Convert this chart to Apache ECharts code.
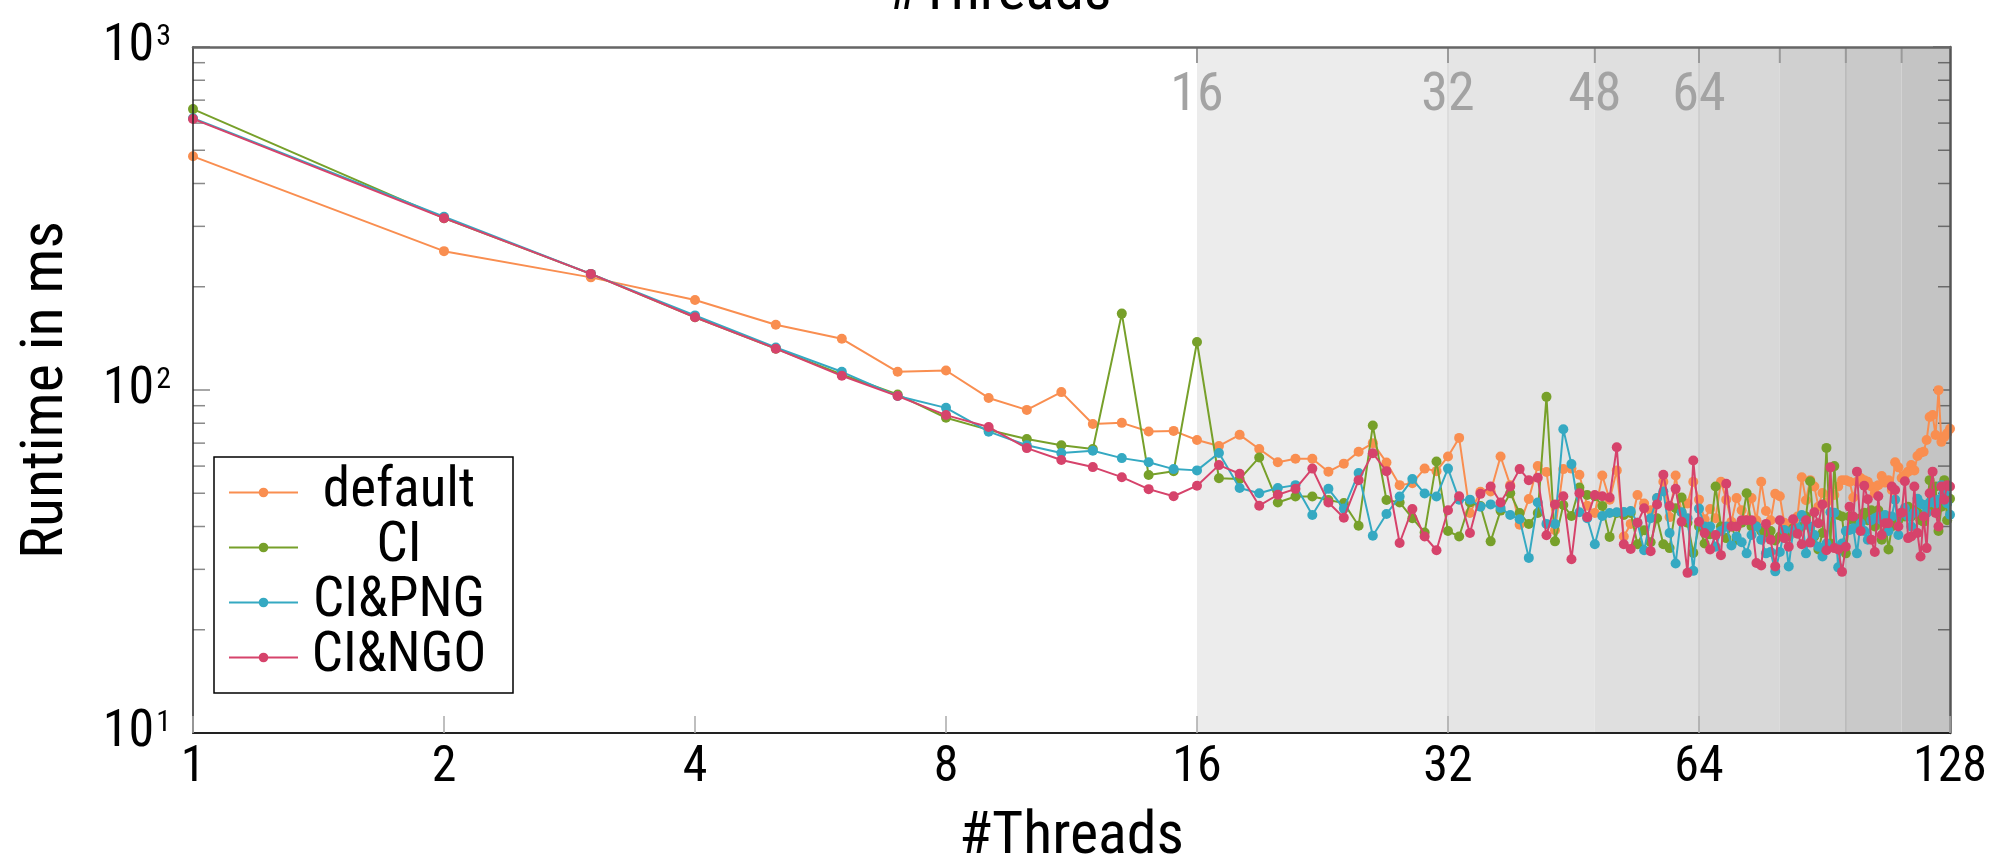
<!DOCTYPE html>
<html>
<head>
<meta charset="utf-8">
<script src="https://cdn.jsdelivr.net/npm/echarts@6/dist/echarts.min.js"></script>
<style>
  html, body { margin: 0; padding: 0; background: #fff; }
  #chart { width: 1998px; height: 857px; }
</style>
</head>
<body>
<div id="chart"></div>
<script>
// ---------------- data ----------------
const THREADS = [1,2,3,4,5,6,7,8,9,10,11,12,13,14,15,16,17,18,19,20,21,22,23,24,25,26,27,28,29,30,31,32,
  33,34,35,36,37,38,39,40,41,42,43,44,45,46,47,48,49,50,51,52,53,54,55,56,57,58,59,60,61,62,63,64,
  65,66,67,68,69,70,71,72,73,74,75,76,77,78,79,80,81,82,83,84,85,86,87,88,89,90,91,92,93,94,95,96,
  97,98,99,100,101,102,103,104,105,106,107,108,109,110,111,112,113,114,115,116,117,118,119,120,121,122,123,124,125,126,127,128];

const SERIES_NAMES = ['default', 'CI', 'CI&PNG', 'CI&NGO'];

const DEFAULT = [480,254,213,183,155,141,113,114,94.8,87.5,98.6,79.6,80.2,75.7,76,71.5,
  68.7,74,67.3,61.6,63,63,57.8,61,66.1,70,61.5,52.8,53.5,59,58,64,
  72.5,43.8,50.5,50.6,64,52.8,40.5,48.1,60,57.7,39,58.8,59,56.6,46,43.8,
  56.3,47.9,58.3,37.4,40.7,49.4,46.7,44.6,48.4,54,42.6,56.3,44,46.7,54,47.9,
  42,45,42.3,54,47.9,41.3,48.4,44.6,41.7,48.4,41.7,54,44.4,41.7,49.8,49,
  41,39.6,41,42.8,55.7,47.7,54.6,52.3,45.7,50.1,47,49.4,49.4,52.3,54.6,54.6,
  54,48.6,54,55.4,54.6,54,52.3,50,52.8,56.1,53.7,54.6,51.1,61.6,59.5,55.4,
  56.6,57.8,60.4,58.3,64.2,65.6,66.1,71.5,83.4,84.5,73.9,99.9,70.6,73,74.8,77.1];

const CI = [659,317,218,163,132,111,97,83,76.5,72,69,67.3,167,56.5,58,138,
  55.3,55,63.6,47,48.9,48.9,47.8,46.8,40.2,78.8,47.8,47,42.3,38.4,61.9,38.8,
  37.4,47,45.9,36.2,44.5,50,43.8,40.7,43.8,95.5,36.2,46.2,42.9,52,49.4,49,
  45.9,37.3,43.8,43.2,43.8,35.5,39,36,42.3,35.5,34.6,45.2,48.6,41,33.5,40,
  35.7,38,52.3,40,37,40,36.6,41,50,40,40,38.8,38.3,38.8,36.4,37.4,
  38.8,37.4,39.5,38.8,40,42.8,54.2,37.4,34.3,38.3,67.8,35.7,60,43.2,42.8,33.4,
  42.8,41.7,40,42.3,43.9,41.7,44.6,40,44.6,36.6,41.7,34.3,40,40.9,41.7,43.9,
  42.8,45.7,42.8,44.6,43.9,41.7,41.3,43.9,54.6,45.7,52.3,38.8,45.7,54.6,41.7,48.2];

const CI_PNG = [620,320,218,165,133,113,96,88.7,75.6,69,65.5,66.5,63.3,61.6,58.8,58.3,
  65.5,51.8,50,51.8,52.8,43.2,51.5,45.1,57.3,37.6,43.5,48.9,55,49.9,48.9,59,
  47.9,47.9,45.7,46.4,45.3,43.2,42,32.4,47,40.7,40.7,76.8,60.8,44,42.3,35.5,
  42.9,43.8,44,44.1,44.4,41,34.1,42.3,48.4,50.6,38.3,31.2,44,42.3,29.7,45.1,
  40,40,34.9,38.8,40,35.2,37.4,36,33.4,37.8,40,36.6,33.4,33.7,29.6,33.7,
  39.1,30.6,39,39.5,43.2,33.4,40,37.8,34.9,32.7,35.7,44,43.9,30.4,35.7,38.8,
  39.1,39.5,33.4,40.9,38.8,36.6,41.7,42.3,42.8,41.7,43.2,38.8,42.8,47.9,37.8,43.9,
  45.3,42.8,40,43.9,48.2,46.7,46.2,43.9,47,47.9,46.7,47.9,52.8,50,46.7,43.3];

const CI_NGO = [617,317,218,163,132,110,96,84.5,78,67.7,62.5,59.6,55.7,51.4,49,52.6,
  60.4,57,46,49.5,51.5,59,47,42.4,54.6,65.4,58,35.8,45,37.4,34.1,44.6,
  49,38.3,49.8,52.3,47,52.3,58.8,54.6,55.5,37.7,46.4,49,32.1,50,42.6,49.4,
  49,48.6,68.1,35.5,34.4,41,45.2,33.9,46.4,56.6,45.9,51.5,41.3,29.3,62.3,41.3,
  38.3,34.3,37.8,33,53.3,40,40,41.7,41.7,41.7,31.3,30.8,40.7,36.6,30.6,41.7,
  37,34.9,42,38.1,35.5,41.7,35.9,44,40.9,46.4,34.1,59.5,34.6,34.3,29.5,34.9,
  45.7,42.8,57.8,38.8,52.6,48,36.6,33.7,49,37.8,40.9,40.9,52.3,51.1,40,43.9,
  54.2,37,37.4,52.3,38.3,32.7,42.8,34.6,50,57.8,43.8,40,52.3,47.9,52.8,52.3];

// shaded thread ranges and the labels printed at the top of their left edges
const BAND_RANGES = [[16,32],[32,48],[48,64],[64,80],[80,96],[96,112],[112,128]];
const BAND_LABELS = ['16','32','48','64','','',''];
const TOP_TICKS = [16,32,48,64,80,96,112];
const Y_MINOR_TICKS = [20,30,40,50,60,70,80,90,200,300,400,500,600,700,800,900];
const Y_MAJOR_TICKS = [10,100,1000];

// ---------------- style ----------------
const FONT = "'Roboto Condensed', 'Liberation Sans Narrow', 'Arial Narrow', 'DejaVu Sans Condensed', sans-serif";
const COLORS = ['#f98e50', '#77a02a', '#35a9c2', '#d6436b'];
const BAND_FILL = ['#ececec','#e5e5e5','#dfdfdf','#d8d8d8','#d0d0d0','#c9c9c9','#c4c4c4'];
const BAND_EDGE = [null,'#d8d8d8',null,'#cbcbcb',null,'#b9b9b9',null];

const chart = echarts.init(document.getElementById('chart'), null, {renderer: 'canvas'});

function pairs(vals) { return THREADS.map((t, i) => [t, vals[i]]); }

const lineSeries = [DEFAULT, CI, CI_PNG, CI_NGO].map((vals, k) => ({
  name: SERIES_NAMES[k],
  type: 'line',
  data: pairs(vals),
  symbol: 'circle',
  symbolSize: 10,
  showSymbol: true,
  lineStyle: { width: 2, color: COLORS[k] },
  itemStyle: { color: COLORS[k] },
  z: 4 + k,
  animation: false,
  emphasis: { disabled: true }
}));

const bandSeries = {
  type: 'custom',
  silent: true,
  z: 1,
  animation: false,
  data: BAND_RANGES,
  encode: { x: [0, 1] },
  renderItem(params, api) {
    const i = params.dataIndex;
    const a = api.coord([api.value(0), 1000]);
    const b = api.coord([api.value(1), 10]);
    const children = [{
      type: 'rect',
      shape: { x: a[0], y: a[1], width: b[0] - a[0], height: b[1] - a[1] },
      style: { fill: BAND_FILL[i] }
    }];
    if (BAND_EDGE[i]) {
      children.push({ type: 'line', shape: { x1: a[0], y1: a[1], x2: a[0], y2: b[1] },
        style: { stroke: BAND_EDGE[i], lineWidth: 1.5 } });
    }
    if (BAND_LABELS[i]) {
      children.push({ type: 'text', x: a[0], y: a[1] + 49,
        style: { text: BAND_LABELS[i], fill: '#a3a3a3', font: '54px ' + FONT,
                 align: 'center', verticalAlign: 'middle' } });
    }
    return { type: 'group', children };
  }
};

const topTickSeries = {
  type: 'custom', silent: true, z: 3, animation: false,
  data: TOP_TICKS.map(t => [t, 1000]),
  renderItem(params, api) {
    const p = api.coord([api.value(0), api.value(1)]);
    return { type: 'line', shape: { x1: p[0], y1: p[1], x2: p[0], y2: p[1] + 16 },
      style: { stroke: '#9a9a9a', lineWidth: 2 } };
  }
};

const yTickSeries = {
  type: 'custom', silent: true, z: 3, animation: false,
  data: Y_MINOR_TICKS.map(v => [1, v, 12]).concat(Y_MAJOR_TICKS.map(v => [1, v, 17])),
  renderItem(params, api) {
    const l = api.coord([1, api.value(1)]);
    const r = api.coord([128, api.value(1)]);
    const len = api.value(2);
    return { type: 'group', children: [
      { type: 'line', shape: { x1: l[0], y1: l[1], x2: l[0] + len, y2: l[1] }, style: { stroke: '#8a8a8a', lineWidth: 1.5 } },
      { type: 'line', shape: { x1: r[0], y1: r[1], x2: r[0] - len, y2: r[1] }, style: { stroke: '#6a6a6a', lineWidth: 1.5 } }
    ]};
  }
};

const option = {
  backgroundColor: '#ffffff',
  animation: false,
  textStyle: { fontFamily: FONT },
  grid: { left: 193, right: 48, top: 47, bottom: 124, show: false, containLabel: false, outerBoundsMode: 'none' },
  legend: {
    orient: 'vertical',
    left: 214, top: 457,
    padding: [8, 18, 8, 14],
    itemGap: 0,
    itemWidth: 69,
    itemHeight: 12,
    backgroundColor: '#ffffff',
    borderColor: '#000000',
    borderWidth: 1.5,
    borderRadius: 0,
    data: SERIES_NAMES,
    formatter: name => '{t|' + name + '}',
    textStyle: {
      fontFamily: FONT,
      rich: { t: { width: 192, align: 'center', fontSize: 55, lineHeight: 57, color: '#000', fontFamily: FONT } }
    },
    selectedMode: false,
    z: 20
  },
  xAxis: [{
    type: 'log', logBase: 2, min: 1, max: 128, interval: 1,
    position: 'bottom',
    z: 10,
    name: '#Threads', nameLocation: 'middle', nameGap: 75,
    nameTextStyle: { fontSize: 60, color: '#000', fontFamily: FONT },
    axisLine: { show: true, lineStyle: { color: '#222', width: 2 } },
    axisTick: { show: true, inside: true, length: 17, lineStyle: { color: '#aaaaaa', width: 1.5 } },
    axisLabel: { fontSize: 50, color: '#000', margin: 10, fontFamily: FONT,
      formatter: v => String(Math.round(v)) },
    splitLine: { show: false },
    minorTick: { show: false }
  }, {
    type: 'log', logBase: 2, min: 1, max: 128,
    position: 'top',
    z: 10,
    axisLine: { show: true, lineStyle: { color: '#666', width: 2.5 } },
    axisTick: { show: false }, axisLabel: { show: false }, splitLine: { show: false }
  }],
  yAxis: [{
    type: 'log', logBase: 10, min: 10, max: 1000, interval: 1,
    position: 'left',
    z: 10,
    name: 'Runtime in ms', nameLocation: 'middle', nameGap: 116, nameRotate: 90,
    nameTextStyle: { fontSize: 60, color: '#000', fontFamily: FONT },
    axisLine: { show: true, lineStyle: { color: '#222', width: 1.5 } },
    axisTick: { show: false },
    axisLabel: {
      margin: 22, color: '#000',
      formatter: v => '{b|10}{s|' + Math.round(Math.log10(v)) + '}',
      rich: {
        b: { fontSize: 52, lineHeight: 50, fontFamily: FONT, color: '#000' },
        s: { fontSize: 30, lineHeight: 30, verticalAlign: 'top', fontFamily: FONT, color: '#000', padding: [0,0,0,2] }
      }
    },
    splitLine: { show: false }
  }, {
    type: 'log', logBase: 10, min: 10, max: 1000,
    position: 'right',
    z: 10,
    axisLine: { show: true, lineStyle: { color: '#555', width: 2.5 } },
    axisTick: { show: false }, axisLabel: { show: false }, splitLine: { show: false }
  }],
  graphic: [{
    type: 'text', left: 'center', top: -36,
    style: { text: '#Threads', font: '60px ' + FONT, fill: '#000', x: 0 },
    x: 1079, originX: 0
  }],
  series: [bandSeries, topTickSeries, yTickSeries].concat(lineSeries)
};

chart.setOption(option);
</script>
</body>
</html>
